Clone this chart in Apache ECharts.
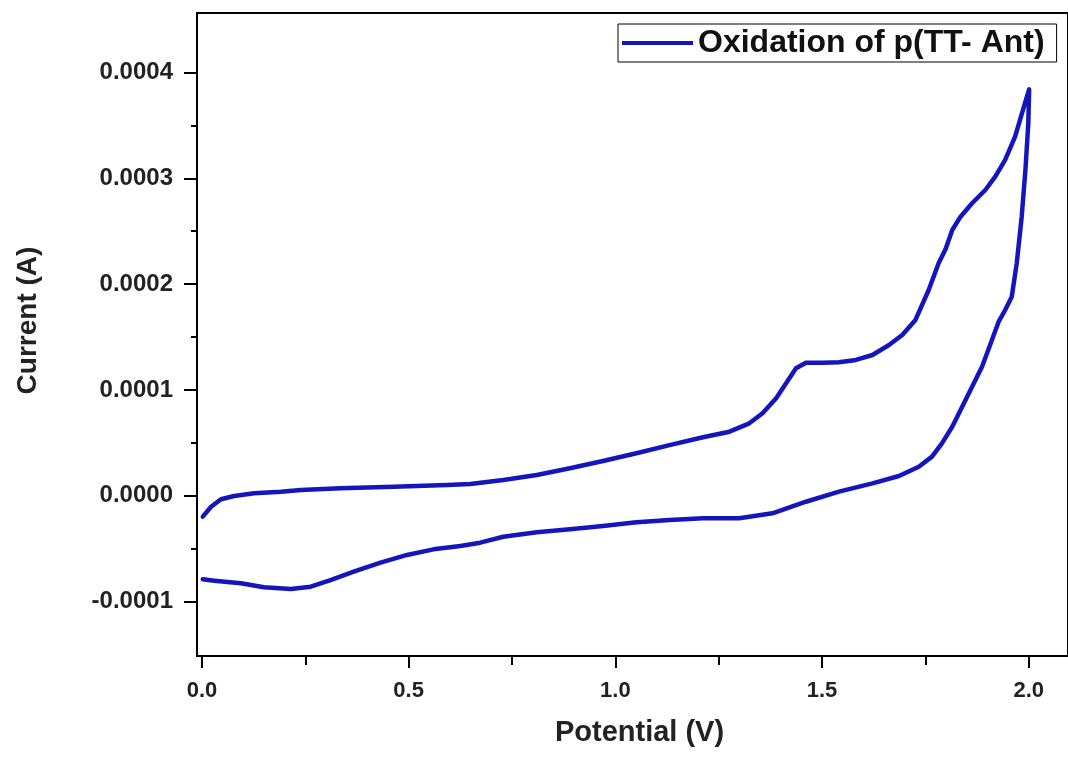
<!DOCTYPE html>
<html>
<head>
<meta charset="utf-8">
<script src="https://cdn.jsdelivr.net/npm/echarts@6/dist/echarts.min.js"></script>
<style>
  html, body { margin: 0; padding: 0; background: #fff; }
  #chart { width: 1068px; height: 758px; }
</style>
</head>
<body>
<div id="chart"></div>
<script>
// forward scan (0 V -> 2 V)
const forwardPotential = [0.002, 0.022, 0.046, 0.078, 0.126, 0.191, 0.239, 0.335, 0.464, 0.593, 0.649, 0.729, 0.810, 0.890, 0.970, 1.051, 1.131, 1.212, 1.276, 1.324, 1.356, 1.389, 1.413, 1.437, 1.461, 1.501, 1.541, 1.582, 1.622, 1.662, 1.694, 1.726, 1.758, 1.782, 1.799, 1.815, 1.835, 1.863, 1.895, 1.919, 1.943, 1.967, 1.992, 2.001];
const forwardCurrent = [-0.0000198, -0.0000104, -0.0000034, -0.0000003, 0.0000023, 0.0000038, 0.0000054, 0.0000070, 0.0000085, 0.0000101, 0.0000111, 0.0000148, 0.0000196, 0.0000259, 0.0000328, 0.0000401, 0.0000478, 0.0000552, 0.0000605, 0.0000684, 0.0000779, 0.0000921, 0.0001062, 0.0001204, 0.0001257, 0.0001257, 0.0001261, 0.0001283, 0.0001330, 0.0001424, 0.0001519, 0.0001661, 0.0001944, 0.0002197, 0.0002332, 0.0002511, 0.0002637, 0.0002764, 0.0002889, 0.0003015, 0.0003173, 0.0003393, 0.0003724, 0.0003841];

// reverse scan (2 V -> 0 V)
const reversePotential = [1.999, 1.992, 1.983, 1.971, 1.959, 1.943, 1.927, 1.911, 1.887, 1.863, 1.839, 1.815, 1.790, 1.766, 1.734, 1.686, 1.622, 1.541, 1.461, 1.380, 1.300, 1.212, 1.131, 1.051, 0.970, 0.890, 0.810, 0.729, 0.673, 0.625, 0.560, 0.496, 0.432, 0.367, 0.311, 0.263, 0.215, 0.150, 0.094, 0.030, 0.002];
const reverseCurrent = [0.0003520, 0.0003079, 0.0002637, 0.0002197, 0.0001881, 0.0001755, 0.0001642, 0.0001472, 0.0001219, 0.0001030, 0.0000841, 0.0000652, 0.0000495, 0.0000369, 0.0000274, 0.0000186, 0.0000117, 0.0000038, -0.0000057, -0.0000166, -0.0000214, -0.0000214, -0.0000230, -0.0000251, -0.0000286, -0.0000318, -0.0000346, -0.0000388, -0.0000444, -0.0000475, -0.0000507, -0.0000560, -0.0000633, -0.0000718, -0.0000797, -0.0000860, -0.0000882, -0.0000866, -0.0000828, -0.0000803, -0.0000790];

const xMajorTicks = [0, 0.5, 1.0, 1.5, 2.0];
const xMinorTicks = [0.25, 0.75, 1.25, 1.75];
const yMajorTicks = [-0.0001, 0, 0.0001, 0.0002, 0.0003, 0.0004];
const yMinorTicks = [-0.00005, 0.00005, 0.00015, 0.00025, 0.00035];

const seriesName = 'Oxidation of p(TT- Ant)';

const chart = echarts.init(document.getElementById('chart'), null, { renderer: 'canvas' });

// 按扫描顺序拼接成一条闭合曲线
const cvData = forwardPotential.map((x, i) => [x, forwardCurrent[i]])
  .concat(reversePotential.map((x, i) => [x, reverseCurrent[i]]));

const font = 'Liberation Sans, Arial, sans-serif';
const lineColor = '#1515bd';
const xRange = { min: -0.012, max: 2.095 };
const yRange = { min: -0.0001515, max: 0.0004562 };

const option = {
  animation: false,
  backgroundColor: '#fff',
  grid: {
    left: 197,
    top: 13,
    width: 873,
    height: 643,
    show: true,
    borderColor: '#000',
    borderWidth: 2
  },
  legend: {
    left: 618,
    top: 24,
    orient: 'horizontal',
    padding: [3, 12, 3, 4],
    borderColor: '#000',
    borderWidth: 1,
    icon: 'rect',
    itemWidth: 71,
    itemHeight: 4,
    textStyle: { fontFamily: font, fontWeight: 'bold', fontSize: 32, color: '#111' },
    data: [seriesName]
  },
  xAxis: [
    {
      type: 'value',
      ...xRange,
      name: 'Potential (V)',
      nameLocation: 'middle',
      nameGap: 62,
      nameTextStyle: { fontFamily: font, fontWeight: 'bold', fontSize: 29, color: '#222', padding: [0, 0, 0, 14] },
      axisLine: { show: true, onZero: false, lineStyle: { color: '#000', width: 2 } },
      axisTick: { show: true, customValues: xMajorTicks, length: 12, lineStyle: { color: '#000', width: 2 } },
      axisLabel: {
        customValues: xMajorTicks,
        margin: 24,
        fontFamily: font, fontWeight: 'bold', fontSize: 22, color: '#222',
        formatter: v => v.toFixed(1)
      },
      splitLine: { show: false }
    },
    {
      type: 'value',
      position: 'bottom',
      ...xRange,
      axisLine: { show: false, onZero: false },
      axisTick: { show: true, customValues: xMinorTicks, length: 9, lineStyle: { color: '#000', width: 2 } },
      axisLabel: { show: false },
      splitLine: { show: false }
    }
  ],
  yAxis: [
    {
      type: 'value',
      ...yRange,
      name: 'Current (A)',
      nameLocation: 'middle',
      nameGap: 155,
      nameRotate: 90,
      nameTextStyle: { fontFamily: font, fontWeight: 'bold', fontSize: 28, color: '#222', padding: [0, 0, 0, 28] },
      axisLine: { show: true, onZero: false, lineStyle: { color: '#000', width: 2 } },
      axisTick: { show: true, customValues: yMajorTicks, length: 13, lineStyle: { color: '#000', width: 2 } },
      axisLabel: {
        customValues: yMajorTicks,
        margin: 24,
        fontFamily: font, fontWeight: 'bold', fontSize: 24, color: '#222',
        formatter: v => v.toFixed(4)
      },
      splitLine: { show: false }
    },
    {
      type: 'value',
      position: 'left',
      ...yRange,
      axisLine: { show: false, onZero: false },
      axisTick: { show: true, customValues: yMinorTicks, length: 6, lineStyle: { color: '#000', width: 2 } },
      axisLabel: { show: false },
      splitLine: { show: false }
    }
  ],
  series: [
    {
      name: seriesName,
      type: 'line',
      xAxisIndex: 0,
      yAxisIndex: 0,
      data: cvData,
      symbol: 'none',
      smooth: false,
      lineStyle: { color: lineColor, width: 4.5, join: 'round', cap: 'round' },
      itemStyle: { color: lineColor }
    }
  ]
};

chart.setOption(option);
</script>
</body>
</html>
